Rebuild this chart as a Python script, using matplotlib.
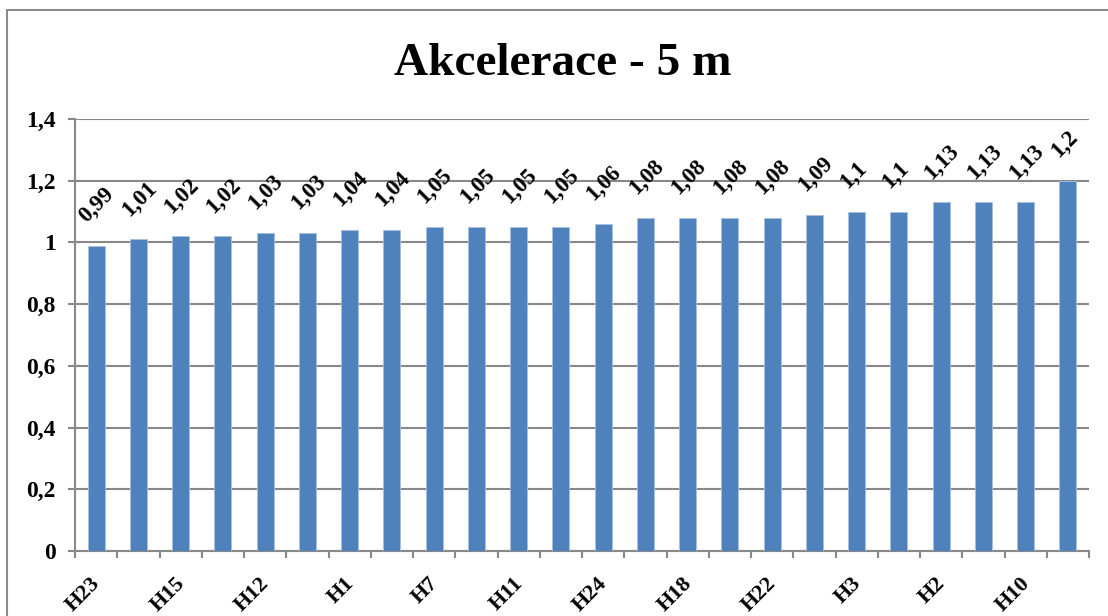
import numpy as np
import matplotlib.pyplot as plt
import matplotlib.transforms as mtrans
from matplotlib.patches import Rectangle

# labels only every other bar are visible in the original chart
labels = ['H23', '', 'H15', '', 'H12', '', 'H1', '', 'H7', '', 'H11', '',
          'H24', '', 'H18', '', 'H22', '', 'H3', '', 'H2', '', 'H10', '']
values = [0.99, 1.01, 1.02, 1.02, 1.03, 1.03, 1.04, 1.04, 1.05, 1.05, 1.05, 1.05,
          1.06, 1.08, 1.08, 1.08, 1.08, 1.09, 1.1, 1.1, 1.13, 1.13, 1.13, 1.2]
yticks = [0, 0.2, 0.4, 0.6, 0.8, 1.0, 1.2, 1.4]

def comma(v):
    return f"{v:g}".replace('.', ',')

plt.rcParams['font.family'] = ['Liberation Serif', 'DejaVu Serif']
plt.rcParams['font.weight'] = 'bold'

grid_c = '#888888'
fig = plt.figure(figsize=(11.08, 6.16), dpi=100)
ax = fig.add_axes([75/1108, 65/616, 1014/1108, 432/616])

x = np.arange(len(values))
ax.bar(x, values, width=0.4, color='#4F81BD', edgecolor='#A7C0DE', linewidth=0.6, zorder=3)

for xi, v in zip(x, values):
    ax.annotate(comma(v), (xi, v), xytext=(-6, 19), textcoords='offset pixels',
                rotation=45, rotation_mode='anchor', ha='left', va='bottom',
                fontsize=16.5, fontweight='bold')

ax.set_xlim(-0.5, len(values) - 0.5)
ax.set_ylim(0, 1.4)
ax.set_yticks(yticks)
ax.set_yticklabels([comma(t) for t in yticks], fontsize=17, fontweight='bold')
ax.yaxis.grid(True, color=grid_c, linewidth=1.5, zorder=0)
ax.tick_params(axis='y', length=5, width=1.5, color=grid_c, pad=9)

shown = [i for i, l in enumerate(labels) if l]
ax.set_xticks(shown)
ax.set_xticklabels([labels[i] for i in shown], rotation=45, ha='right',
                   rotation_mode='anchor', fontsize=16, fontweight='bold')
ax.tick_params(axis='x', which='major', length=0, pad=16)
shift = mtrans.ScaledTranslation(-6/100, 0, fig.dpi_scale_trans)
for t in ax.get_xticklabels():
    t.set_transform(t.get_transform() + shift)
ax.set_xticks(np.arange(len(values) + 1) - 0.5, minor=True)
ax.tick_params(axis='x', which='minor', length=5, width=1.5, color=grid_c)

for s in ['top', 'right']:
    ax.spines[s].set_visible(False)
for s in ['left', 'bottom']:
    ax.spines[s].set_color(grid_c)
    ax.spines[s].set_linewidth(1.5)

fig.text(563/1108, 1 - 75/616, 'Akcelerace - 5 m', ha='center', va='baseline',
         fontsize=34, fontweight='bold')

fig.patches.append(Rectangle((7/1108, -0.02), 1.0, 1 - 10/616 + 0.02, fill=False,
                             edgecolor='#8c8c8c', linewidth=1.5, transform=fig.transFigure))

plt.savefig('out.png', dpi=100)
